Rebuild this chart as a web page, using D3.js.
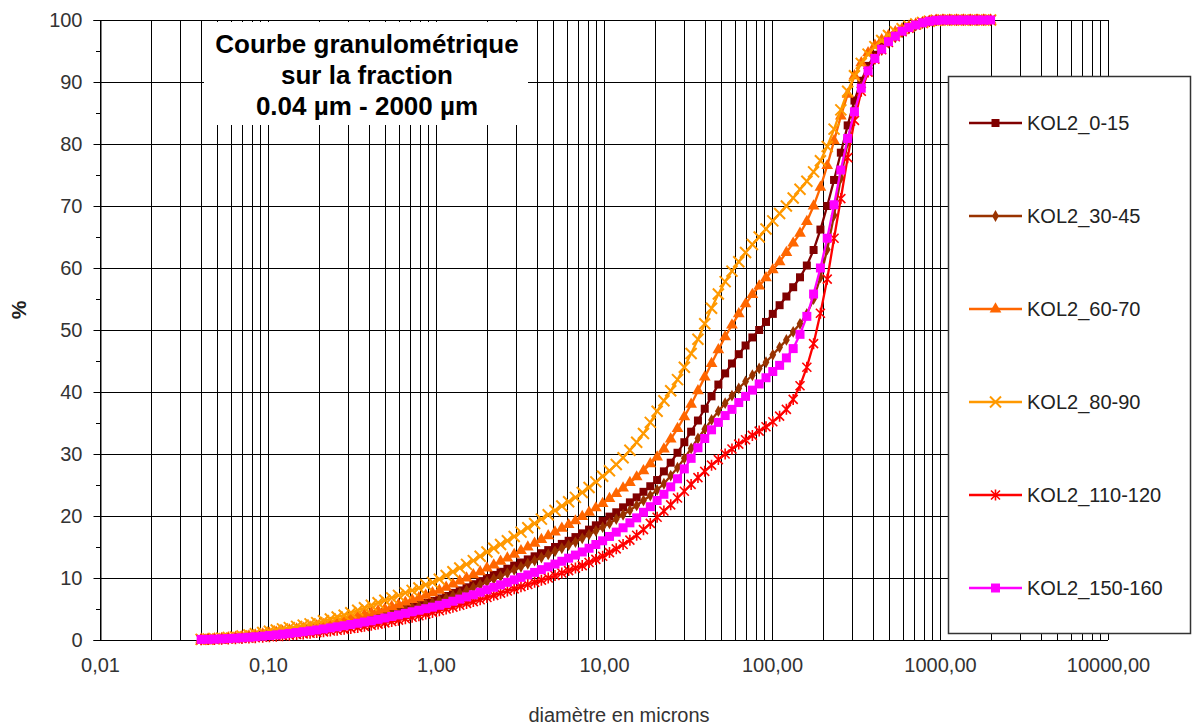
<!DOCTYPE html>
<html><head><meta charset="utf-8">
<script src="https://cdn.jsdelivr.net/npm/d3@7"></script>
<style>
body{margin:0;background:#fff;}
svg text{font-family:"Liberation Sans",Arial,sans-serif;}
</style></head><body>
<svg id="chart" width="1192" height="725"></svg>
<script>
// ---------- DATA ----------
const sizes = [0.04,0.044,0.048,0.053,0.058,0.064,0.07,0.077,0.084,0.093,
 0.102,0.112,0.122,0.134,0.148,0.162,0.178,0.195,0.214,0.235,
 0.258,0.284,0.311,0.342,0.375,0.412,0.452,0.496,0.545,0.598,
 0.657,0.721,0.791,0.869,0.953,1.047,1.149,1.261,1.385,1.52,
 1.668,1.832,2.01,2.207,2.423,2.66,2.92,3.205,3.519,3.863,
 4.24,4.655,5.11,5.61,6.158,6.76,7.421,8.147,8.943,9.818,
 10.78,11.83,12.99,14.26,15.65,17.18,18.86,20.71,22.73,24.95,
 27.39,30.07,33.01,36.24,39.78,43.67,47.94,52.62,57.77,63.41,
 69.61,76.42,83.89,92.09,101.1,111,121.8,133.7,146.8,161.2,
 176.8,194.2,213.2,234.1,256.9,282.1,309.6,339.9,373.1,409.6,
 449.7,493.6,541.9,594.9,653,716.8,786.9,863.9,948.3,1041,
 1143,1255,1377,1512,1660,1822,2000];

const kol0_15 = [0.1,0.12,0.16,0.22,0.3,0.38,0.47,0.57,0.68,0.8,
 0.92,1.05,1.2,1.35,1.5,1.65,1.82,2.0,2.2,2.4,
 2.6,2.85,3.1,3.35,3.6,3.9,4.2,4.5,4.75,5.0,
 5.25,5.5,5.75,6.0,6.3,6.7,7.1,7.6,8.0,8.5,
 9.0,9.5,10.0,10.5,11.0,11.5,12.0,12.5,13.0,13.5,
 14.0,14.5,15.0,15.5,16.0,16.6,17.2,17.8,18.5,19.2,
 19.9,20.6,21.4,22.2,23.0,23.9,24.8,25.8,27.2,28.6,
 30.2,31.9,33.6,35.4,37.3,39.3,41.2,43.0,44.6,46.1,
 47.5,48.8,50.0,51.3,52.6,54.0,55.4,56.9,58.5,60.4,
 62.9,66.2,70.0,74.2,78.6,83.0,87.0,90.2,92.6,94.4,
 95.7,96.7,97.5,98.2,98.8,99.2,99.55,99.8,99.95,100,
 100,100,100,100,100,100,100];

const kol30_45 = [0.1,0.12,0.15,0.2,0.27,0.35,0.44,0.53,0.63,0.75,
 0.87,1.0,1.13,1.27,1.42,1.57,1.73,1.9,2.08,2.27,
 2.47,2.7,2.93,3.17,3.42,3.68,3.95,4.22,4.5,4.75,
 5.0,5.25,5.5,5.75,6.0,6.35,6.75,7.15,7.55,8.0,
 8.45,8.9,9.4,9.85,10.3,10.8,11.3,11.8,12.3,12.8,
 13.3,13.8,14.3,14.8,15.3,15.8,16.4,17.0,17.6,18.2,
 18.8,19.5,20.2,20.9,21.7,22.5,23.3,24.2,25.2,26.5,
 27.8,29.3,30.9,32.5,34.0,35.5,36.9,38.2,39.4,40.6,
 41.7,42.7,43.8,44.8,46.0,47.2,48.4,49.7,51.0,52.6,
 55.0,58.5,63.0,68.5,74.5,80.3,85.3,89.2,91.9,93.8,
 95.2,96.3,97.2,98.0,98.6,99.1,99.5,99.8,99.95,100,
 100,100,100,100,100,100,100];

const kol60_70 = [0.1,0.15,0.2,0.25,0.35,0.45,0.55,0.65,0.8,0.95,
 1.1,1.25,1.4,1.6,1.75,1.9,2.1,2.3,2.5,2.7,
 3.0,3.2,3.5,3.8,4.1,4.4,4.7,5.0,5.4,5.7,
 6.1,6.5,6.8,7.2,7.6,8.0,8.5,9.0,9.5,10.0,
 10.5,11.0,11.6,12.1,12.7,13.2,13.8,14.4,15.0,15.6,
 16.2,16.8,17.4,18.0,18.6,19.2,19.9,20.6,21.3,22.0,
 22.8,23.6,24.5,25.4,26.3,27.3,28.4,29.5,30.8,32.4,
 34.1,36.0,38.0,40.2,42.4,44.6,46.8,48.9,50.8,52.6,
 54.2,55.7,57.1,58.4,59.7,61.0,62.5,64.0,65.6,67.5,
 70.0,73.0,76.5,80.5,84.5,88.0,91.0,93.1,94.7,95.9,
 96.8,97.5,98.1,98.6,99.0,99.35,99.6,99.8,99.95,100,
 100,100,100,100,100,100,100];

const kol80_90 = [0.1,0.15,0.2,0.3,0.4,0.5,0.65,0.8,1.0,1.2,
 1.4,1.6,1.8,2.0,2.2,2.4,2.6,2.8,3.1,3.4,
 3.7,4.0,4.4,4.8,5.2,5.6,6.0,6.4,6.8,7.2,
 7.6,8.0,8.4,8.9,9.3,9.8,10.4,11.0,11.6,12.2,
 12.8,13.5,14.2,14.8,15.4,16.0,16.7,17.4,18.1,18.8,
 19.5,20.2,20.9,21.6,22.3,23.0,23.8,24.6,25.5,26.4,
 27.3,28.3,29.4,30.6,31.9,33.3,35.1,36.9,38.6,40.2,
 42.0,44.0,46.2,48.5,51.0,53.5,55.8,57.8,59.5,61.0,
 62.5,63.8,65.0,66.3,67.6,68.8,70.0,71.3,72.7,74.0,
 75.5,77.3,79.6,82.4,85.5,88.5,91.0,93.0,94.5,95.7,
 96.7,97.5,98.1,98.6,99.0,99.35,99.6,99.8,99.95,100,
 100,100,100,100,100,100,100];

const kol110_120 = [0.05,0.07,0.09,0.12,0.16,0.2,0.25,0.31,0.37,0.44,
 0.52,0.6,0.69,0.78,0.88,0.98,1.09,1.2,1.32,1.45,
 1.58,1.72,1.87,2.03,2.2,2.38,2.57,2.77,2.98,3.2,
 3.43,3.67,3.92,4.18,4.45,4.72,5.0,5.3,5.6,5.9,
 6.2,6.5,6.85,7.2,7.55,7.9,8.25,8.6,8.95,9.3,
 9.65,10.0,10.4,10.8,11.2,11.6,12.0,12.5,13.0,13.5,
 14.1,14.7,15.4,16.1,16.9,17.8,18.8,19.8,20.8,21.8,
 22.9,24.0,25.1,26.2,27.2,28.2,29.1,30.0,30.8,31.6,
 32.3,33.0,33.7,34.4,35.2,36.1,37.2,38.8,41.0,44.0,
 47.8,52.7,58.2,64.8,71.2,77.8,83.8,88.5,91.6,93.7,
 95.2,96.4,97.3,98.1,98.7,99.2,99.55,99.8,99.95,100,
 100,100,100,100,100,100,100];

const kol150_160 = [0.1,0.11,0.14,0.18,0.23,0.29,0.36,0.44,0.52,0.62,
 0.72,0.83,0.95,1.07,1.2,1.33,1.47,1.62,1.78,1.95,
 2.12,2.3,2.5,2.7,2.9,3.1,3.33,3.55,3.8,4.05,
 4.3,4.55,4.8,5.05,5.3,5.6,5.9,6.25,6.6,6.95,
 7.3,7.7,8.1,8.5,8.9,9.3,9.7,10.1,10.5,10.9,
 11.35,11.8,12.25,12.7,13.2,13.7,14.2,14.8,15.4,16.0,
 16.7,17.4,18.1,18.9,19.7,20.6,21.5,22.5,23.5,24.7,
 26.0,27.6,29.3,31.0,32.5,33.9,35.1,36.2,37.2,38.3,
 39.3,40.3,41.3,42.3,43.3,44.3,45.5,47.0,49.3,52.2,
 55.8,60.0,64.8,70.2,75.8,80.9,85.2,89.0,91.8,93.8,
 95.3,96.5,97.4,98.2,98.8,99.2,99.55,99.8,99.95,100,
 100,100,100,100,100,100,100];

const seriesNames = ["KOL2_0-15","KOL2_30-45","KOL2_60-70","KOL2_80-90","KOL2_110-120","KOL2_150-160"];
const seriesValues = [kol0_15, kol30_45, kol60_70, kol80_90, kol110_120, kol150_160];
const xTickValues = [0.01,0.1,1,10,100,1000,10000];
const yTickValues = [0,10,20,30,40,50,60,70,80,90,100];
const yMinorTicks = [5,15,25,35,45,55,65,75,85,95];
const titleLines = ["Courbe granulométrique","sur la fraction","0.04 µm - 2000 µm"];
const xTitle = "diamètre en microns";
const yTitle = "%";

// ---------- STYLE ----------
const colors = ["#800000","#993300","#FF6600","#FF9900","#FF0000","#FF00FF"];
const markers = ["square","diamond","triangle","x","star","bigsquare"];

const svg = d3.select("#chart");
const x = d3.scaleLog().domain([0.01,10000]).range([100,1108]);
const y = d3.scaleLinear().domain([0,100]).range([640,20]);
const fr = d3.formatLocale({decimal:",",thousands:"",grouping:[3],currency:["",""]});
const fmt = fr.format(".2f");

// gridlines
const grid = svg.append("g").attr("stroke","#000").attr("stroke-width",1.2).attr("shape-rendering","crispEdges");
grid.selectAll("line.v").data(x.ticks()).join("line")
  .attr("x1",d=>Math.round(x(d))+0.5).attr("x2",d=>Math.round(x(d))+0.5)
  .attr("y1",y(0)).attr("y2",y(100));
grid.selectAll("line.h").data(yTickValues).join("line")
  .attr("x1",x(0.01)).attr("x2",x(10000))
  .attr("y1",d=>Math.round(y(d))+0.5).attr("y2",d=>Math.round(y(d))+0.5);

// y axis
const yAxis = svg.append("g").attr("transform","translate(100.5,0)")
  .call(d3.axisLeft(y).tickValues(yTickValues).tickSize(7).tickPadding(11).tickFormat(d3.format("d")));
yAxis.select(".domain").attr("stroke","#000");
yAxis.selectAll(".tick line").attr("stroke","#000");
yAxis.selectAll("text").attr("font-size",20).attr("fill","#333").attr("font-family","Liberation Sans, Arial, sans-serif");
svg.append("g").selectAll("line").data(yMinorTicks).join("line")
  .attr("x1",96).attr("x2",100).attr("y1",d=>Math.round(y(d))+0.5).attr("y2",d=>Math.round(y(d))+0.5)
  .attr("stroke","#000").attr("shape-rendering","crispEdges");

// x axis
const xAxis = svg.append("g").attr("transform","translate(0,640)")
  .call(d3.axisBottom(x).tickValues(xTickValues).tickSize(0).tickPadding(18).tickFormat(fmt));
xAxis.select(".domain").remove();
xAxis.selectAll("text").attr("font-size",20).attr("fill","#333").attr("font-family","Liberation Sans, Arial, sans-serif");

// title box
svg.append("rect").attr("x",204).attr("y",22).attr("width",324).attr("height",103).attr("fill","#fff");
svg.append("g").selectAll("text").data(titleLines).join("text")
  .attr("x",367).attr("y",(d,i)=>53+i*31).attr("text-anchor","middle")
  .attr("font-size",26).attr("font-weight","bold").attr("fill","#000").text(d=>d);

// axis titles
svg.append("text").attr("x",619).attr("y",722).attr("text-anchor","middle")
  .attr("font-size",20).attr("fill","#333").text(xTitle);
svg.append("text").attr("transform","translate(26,310) rotate(-90)").attr("text-anchor","middle")
  .attr("font-size",21).attr("font-weight","bold").attr("fill","#222").text(yTitle);

// markers
function markerPath(type){
  switch(type){
    case "square": return d3.symbol(d3.symbolSquare,64)();
    case "bigsquare": return d3.symbol(d3.symbolSquare,81)();
    case "diamond": return d3.symbol(d3.symbolDiamond,40)();
    case "triangle": return d3.symbol(d3.symbolTriangle,60)();
    case "x": return "M-5.5,-5.5L5.5,5.5M-5.5,5.5L5.5,-5.5";
    case "star": return "M-4.5,-4.5L4.5,4.5M-4.5,4.5L4.5,-4.5M0,-5.5L0,5.5";
  }
}
function drawMarker(g, type, color){
  const stroked = (type==="x"||type==="star");
  g.append("path").attr("d",markerPath(type))
   .attr("fill",stroked?"none":color)
   .attr("stroke",color).attr("stroke-width",stroked?(type==="x"?2:1.6):0);
}

const line = d3.line().x(d=>x(d[0])).y(d=>y(d[1]));
seriesValues.forEach((vals,si)=>{
  const pts = sizes.map((s,i)=>[s,vals[i]]);
  const g = svg.append("g");
  g.append("path").datum(pts).attr("d",line).attr("fill","none")
    .attr("stroke",colors[si]).attr("stroke-width",2.3);
  pts.forEach(p=>{
    const mg = g.append("g").attr("transform",`translate(${x(p[0])},${y(p[1])})`);
    drawMarker(mg, markers[si], colors[si]);
  });
});

// legend
const leg = svg.append("g");
leg.append("rect").attr("x",948.5).attr("y",76.5).attr("width",242).attr("height",557)
  .attr("fill","#fff").attr("stroke","#333").attr("stroke-width",1.5);
seriesNames.forEach((name,i)=>{
  const ly = 123 + i*93;
  const g = leg.append("g");
  g.append("line").attr("x1",969).attr("x2",1022).attr("y1",ly).attr("y2",ly)
    .attr("stroke",colors[i]).attr("stroke-width",2.3);
  const mg = g.append("g").attr("transform",`translate(995.5,${ly})`);
  drawMarker(mg, markers[i], colors[i]);
  g.append("text").attr("x",1027).attr("y",ly).attr("dy","0.35em")
    .attr("font-size",20).attr("fill","#222").text(name);
});
</script>
</body></html>
